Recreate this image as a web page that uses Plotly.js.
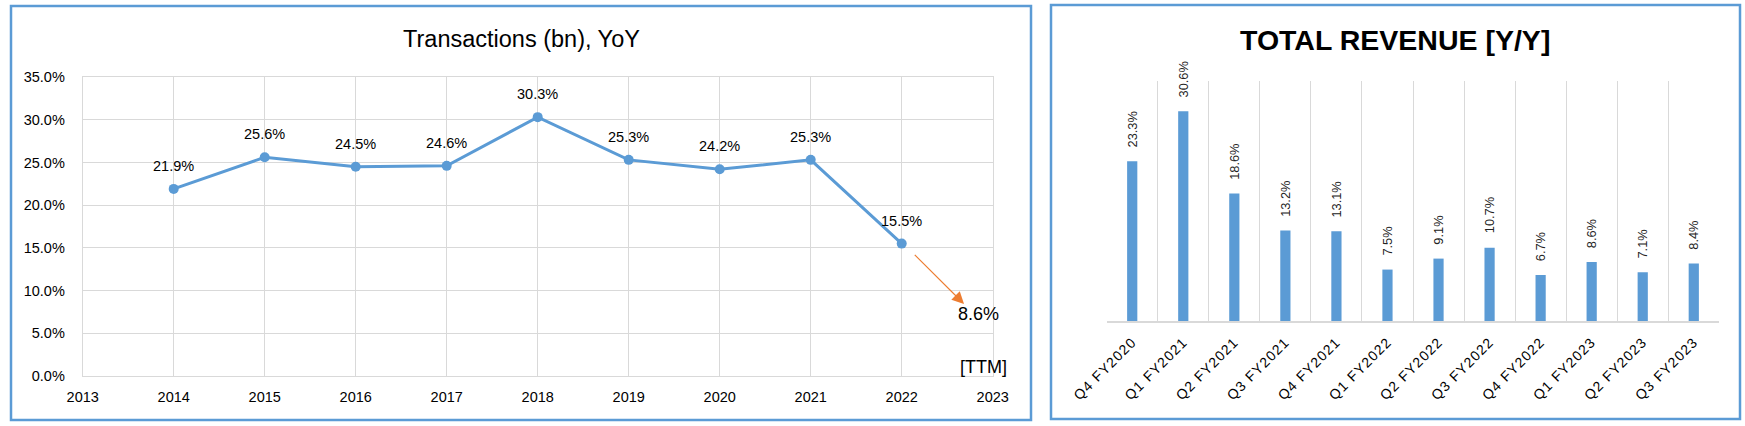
<!DOCTYPE html>
<html><head><meta charset="utf-8">
<script src="https://cdn.plot.ly/plotly-3.0.1.min.js"></script>
<style>html,body{margin:0;padding:0;background:#fff;overflow:hidden;} #chart{width:1745px;height:426px;}
.x2tick text{letter-spacing:1.1px;}
</style>
</head><body><div id="chart"></div>
<script>
// ---- data ----
const years = [2014, 2015, 2016, 2017, 2018, 2019, 2020, 2021, 2022];
const txnYoY = [21.9, 25.6, 24.5, 24.6, 30.3, 25.3, 24.2, 25.3, 15.5];
const ttmValue = 8.6;
const ttmTag = '[TTM]';
const quarters = ['Q4 FY2020', 'Q1 FY2021', 'Q2 FY2021', 'Q3 FY2021', 'Q4 FY2021', 'Q1 FY2022',
                  'Q2 FY2022', 'Q3 FY2022', 'Q4 FY2022', 'Q1 FY2023', 'Q2 FY2023', 'Q3 FY2023'];
const revYoY = [23.3, 30.6, 18.6, 13.2, 13.1, 7.5, 9.1, 10.7, 6.7, 8.6, 7.1, 8.4];
const leftTitle = 'Transactions (bn), YoY';
const rightTitle = 'TOTAL REVENUE [Y/Y]';

// ---- layout helpers (pixel -> paper) ----
const W = 1745, H = 426;
const px = x => x / W;
const py = y => 1 - y / H;
const FONT = 'Liberation Sans, Arial, sans-serif';
const BLUE = '#5B9BD5';
const GRID = '#D9D9D9';

const traces = [
  { type: 'scatter', mode: 'lines+markers', x: years, y: txnYoY,
    line: { color: BLUE, width: 3 }, marker: { color: BLUE, size: 10 },
    xaxis: 'x', yaxis: 'y', hoverinfo: 'skip' },
  { type: 'bar', x: quarters, y: revYoY, marker: { color: BLUE },
    xaxis: 'x2', yaxis: 'y2', hoverinfo: 'skip' }
];

const annotations = [];
annotations.push({ xref: 'paper', yref: 'paper', x: px(521), y: py(39), xanchor: 'center', yanchor: 'middle',
  text: leftTitle, showarrow: false, font: { family: FONT, size: 23.5, color: '#000' } });
annotations.push({ xref: 'paper', yref: 'paper', x: px(1395.2), y: py(39.5), xanchor: 'center', yanchor: 'middle',
  text: rightTitle, showarrow: false, font: { family: FONT, size: 28.5, color: '#000', weight: 'bold' } });
years.forEach((yr, i) => annotations.push({ xref: 'x', yref: 'y', x: yr, y: txnYoY[i],
  text: txnYoY[i].toFixed(1) + '%', showarrow: false, xanchor: 'center', yanchor: 'middle', yshift: 23,
  font: { family: FONT, size: 14.5, color: '#000' } }));
quarters.forEach((q, i) => annotations.push({ xref: 'x2', yref: 'y2', x: q, y: revYoY[i],
  text: revYoY[i].toFixed(1) + '%', showarrow: false, textangle: -90, xanchor: 'center', yanchor: 'bottom', yshift: 12,
  font: { family: FONT, size: 12.8, color: '#222' } }));
// TTM arrow and label
annotations.push({ xref: 'x', yref: 'y', axref: 'x', ayref: 'y', x: 2022.685, y: 8.43, ax: 2022.127, ay: 14.36,
  text: '', showarrow: true, arrowcolor: '#ED7D31', arrowwidth: 1.2, arrowhead: 2, arrowsize: 2, standoff: 0 });
annotations.push({ xref: 'x', yref: 'y', x: 2022.84, y: 7.26, xanchor: 'center', yanchor: 'middle',
  text: ttmValue.toFixed(1) + '%', showarrow: false, font: { family: FONT, size: 18, color: '#000' } });
annotations.push({ xref: 'paper', yref: 'paper', x: px(983), y: py(367), xanchor: 'center', yanchor: 'middle',
  text: ttmTag, showarrow: false, font: { family: FONT, size: 18, color: '#000' } });

const shapes = [
  { type: 'rect', xref: 'paper', yref: 'paper', x0: px(11), x1: px(1031), y0: py(420), y1: py(6),
    line: { color: BLUE, width: 2.5 }, fillcolor: 'rgba(0,0,0,0)' },
  { type: 'rect', xref: 'paper', yref: 'paper', x0: px(1051), x1: px(1740), y0: py(419), y1: py(5),
    line: { color: BLUE, width: 2.5 }, fillcolor: 'rgba(0,0,0,0)' }
];

const layout = {
  width: W, height: H, margin: { l: 0, r: 0, t: 0, b: 0 },
  paper_bgcolor: '#fff', plot_bgcolor: '#fff', showlegend: false, bargap: 0.8,
  font: { family: FONT, color: '#000' },
  xaxis: { domain: [px(82.7), px(992.7)], range: [2013, 2023], tick0: 2013, dtick: 1, anchor: 'y',
    showgrid: true, gridcolor: GRID, showline: true, linecolor: GRID, mirror: true, zeroline: false,
    ticks: '', ticklabelstandoff: 8, tickfont: { family: FONT, size: 14.5, color: '#000' } },
  yaxis: { domain: [py(376), py(77)], range: [0, 35], dtick: 5, tickformat: '.1f', ticksuffix: '%', anchor: 'x',
    showgrid: true, gridcolor: GRID, showline: true, linecolor: GRID, mirror: true, zeroline: false,
    ticks: '', ticklabelstandoff: 14, tickfont: { family: FONT, size: 14.5, color: '#000' } },
  xaxis2: { domain: [px(1106.7), px(1719.3)], type: 'category', anchor: 'y2', tickson: 'boundaries',
    showgrid: true, gridcolor: GRID, showline: true, linecolor: GRID, linewidth: 1.5, zeroline: false,
    ticks: '', tickangle: -45, ticklabelstandoff: 6, tickfont: { family: FONT, size: 14, color: '#000' } },
  yaxis2: { domain: [py(321), py(81)], range: [0, 35], anchor: 'x2', visible: false,
    showgrid: false, zeroline: false },
  annotations: annotations, shapes: shapes
};

Plotly.newPlot('chart', traces, layout, { displayModeBar: false, staticPlot: true });
</script></body></html>
